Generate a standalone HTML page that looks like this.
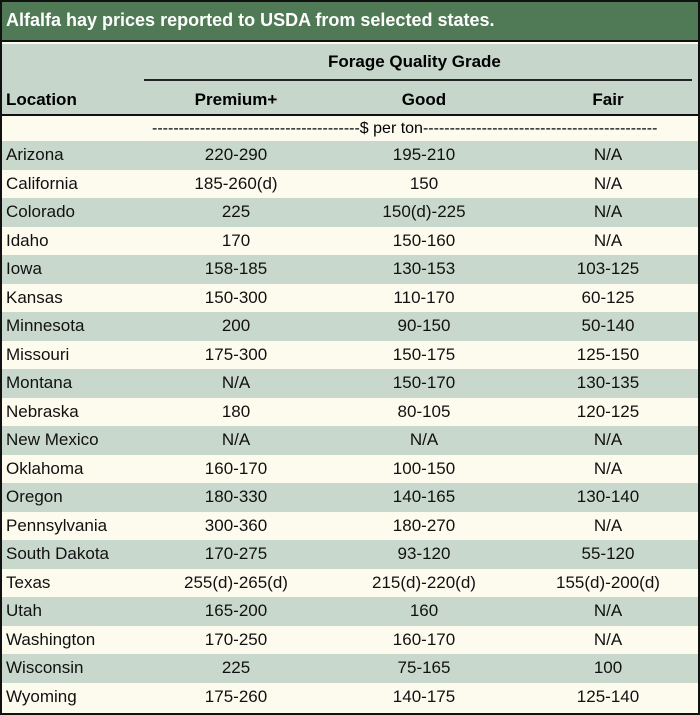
<!DOCTYPE html>
<html><head><style>
*{margin:0;padding:0;box-sizing:border-box}
body{width:700px;height:715px;background:#fff;font-family:"Liberation Sans",Arial,sans-serif;position:relative;overflow:hidden}
#f{position:absolute;left:0;top:0;width:700px;height:715px;border:2px solid #111;background:#fdfbee}
.a{position:absolute;white-space:nowrap}
.r{position:absolute;left:0;width:696px;height:28.5px;font-size:17px;color:#111}
.r span{position:absolute;top:4px}
.c1{left:4px}.c2{left:140px;width:188px;text-align:center}.c3{left:328px;width:188px;text-align:center}.c4{left:516px;width:180px;text-align:center}
.g{background:#c9d8cd}
</style></head><body>
<div id="f">
<div class="a" style="left:0;top:0;width:696px;height:40px;background:#4f7a55;border-bottom:2px solid #111"></div>
<div class="a" style="left:4px;top:8px;color:#fff;font-weight:bold;font-size:18px">Alfalfa hay prices reported to USDA from selected states.</div>
<div class="a" style="left:0;top:42px;width:696px;height:72px;background:#c6d6cb;border-bottom:2px solid #111"></div>
<div class="a" style="left:326px;top:50px;font-weight:bold;font-size:17px">Forage Quality Grade</div>
<div class="a" style="left:142px;top:77px;width:548px;height:1.5px;background:#222"></div>
<div class="a c1" style="top:88px;font-weight:bold;font-size:17px">Location</div>
<div class="a c2" style="top:88px;font-weight:bold;font-size:17px">Premium+</div>
<div class="a c3" style="top:88px;font-weight:bold;font-size:17px">Good</div>
<div class="a c4" style="top:88px;font-weight:bold;font-size:17px">Fair</div>
<div class="a" style="left:150px;top:118px;font-size:16px;width:540px;overflow:hidden">---------------------------------------$ per ton--------------------------------------------</div>
<div id="rows"></div>
</div>
<script>
var d=[["Arizona","220-290","195-210","N/A"],["California","185-260(d)","150","N/A"],["Colorado","225","150(d)-225","N/A"],["Idaho","170","150-160","N/A"],["Iowa","158-185","130-153","103-125"],["Kansas","150-300","110-170","60-125"],["Minnesota","200","90-150","50-140"],["Missouri","175-300","150-175","125-150"],["Montana","N/A","150-170","130-135"],["Nebraska","180","80-105","120-125"],["New Mexico","N/A","N/A","N/A"],["Oklahoma","160-170","100-150","N/A"],["Oregon","180-330","140-165","130-140"],["Pennsylvania","300-360","180-270","N/A"],["South Dakota","170-275","93-120","55-120"],["Texas","255(d)-265(d)","215(d)-220(d)","155(d)-200(d)"],["Utah","165-200","160","N/A"],["Washington","170-250","160-170","N/A"],["Wisconsin","225","75-165","100"],["Wyoming","175-260","140-175","125-140"]];
var h="";d.forEach(function(r,i){h+='<div class="r'+(i%2==0?' g':'')+'" style="top:'+(139+28.5*i)+'px"><span class="c1">'+r[0]+'</span><span class="c2">'+r[1]+'</span><span class="c3">'+r[2]+'</span><span class="c4">'+r[3]+'</span></div>'});
document.getElementById("rows").outerHTML=h;
</script>
</body></html>
